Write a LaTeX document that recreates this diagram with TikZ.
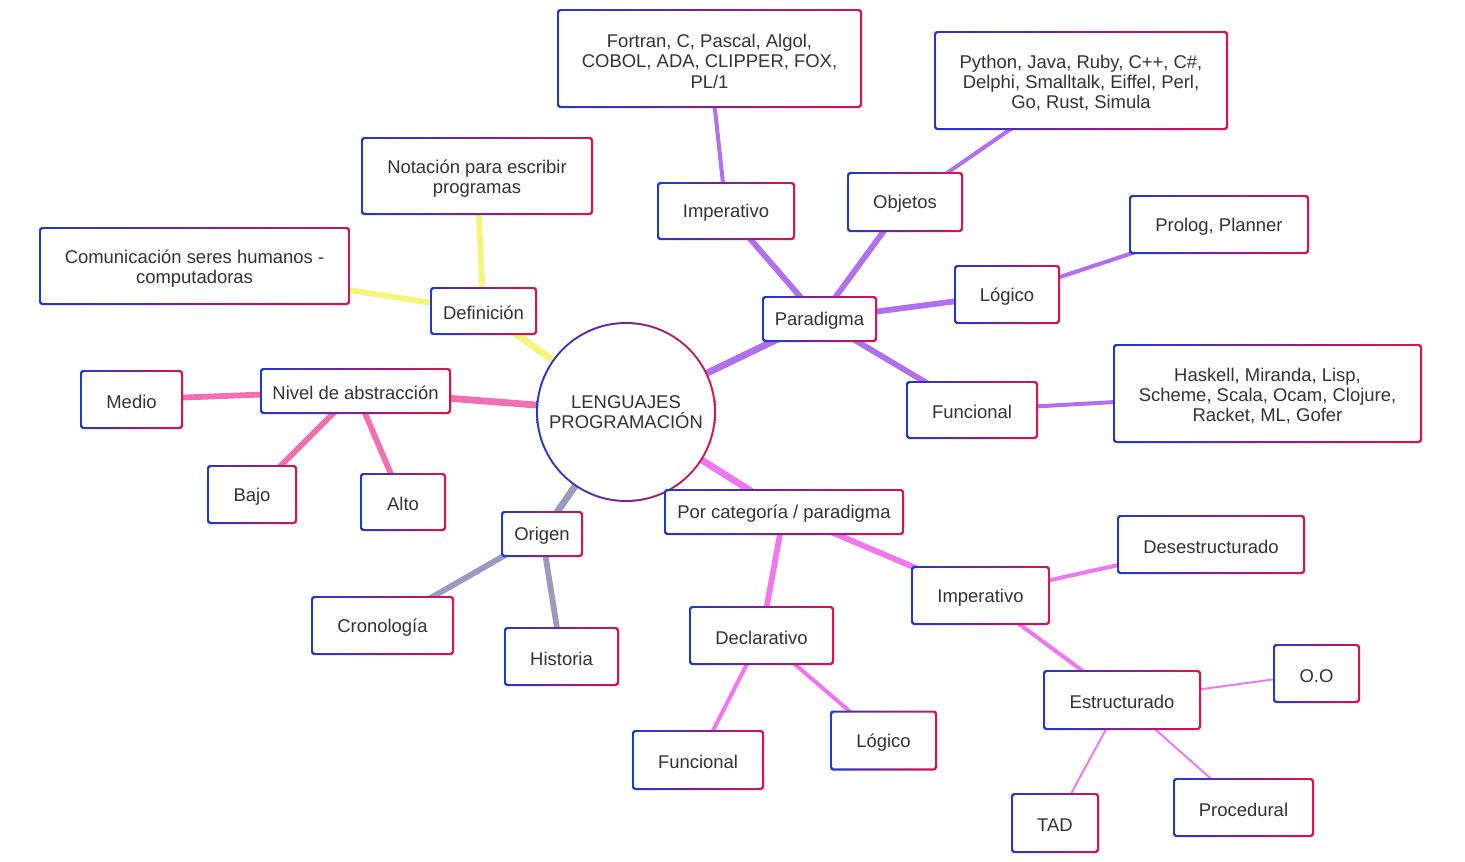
\documentclass[tikz,border=0pt]{standalone}
\usepackage{fontspec}
\setmainfont{Liberation Sans}
\usetikzlibrary{backgrounds}

\definecolor{frameblue}{RGB}{28,56,214}
\definecolor{framered}{RGB}{226,16,76}
\definecolor{textgray}{RGB}{51,51,51}
\definecolor{defyellow}{RGB}{245,245,125}
\definecolor{nivpink}{RGB}{242,112,178}
\definecolor{origray}{RGB}{155,155,194}
\definecolor{parpurple}{RGB}{178,112,240}
\definecolor{catmagenta}{RGB}{242,118,240}

\tikzset{
	box/.style={rounded corners=1.7pt, inner sep=0pt, align=center, text=textgray,
		font=\fontsize{10.5}{11.4}\selectfont, text height=9.9pt,
		path picture={
			\shade[left color=frameblue, right color=framered]
				(path picture bounding box.south west) rectangle (path picture bounding box.north east);
			\fill[white, rounded corners=1pt]
				([shift={(1.15pt,1.15pt)}]path picture bounding box.south west) rectangle
				([shift={(-1.15pt,-1.15pt)}]path picture bounding box.north east);
		}},
	two/.style={text height=22.3pt},
	three/.style={text height=33.7pt},
	wh/.style 2 args={minimum width=#1*0.02cm, minimum height=#2*0.02cm},
	root/.style={circle, inner sep=0pt, minimum size=3.6cm, align=center, text=textgray,
		font=\fontsize{10.5}{11.4}\selectfont,
		path picture={
			\shade[left color=frameblue, right color=framered]
				(path picture bounding box.south west) rectangle (path picture bounding box.north east);
			\fill[white] (path picture bounding box.center) circle (1.8cm-1.15pt);
		}},
	lvla/.style={line width=3.9pt},
	lvlb/.style={line width=3.3pt},
	lvlc/.style={line width=2.3pt},
	lvld/.style={line width=1.1pt}
}

\begin{document}
\begin{tikzpicture}[x=0.02cm, y=-0.02cm]
			\useasboundingbox (0,0) rectangle (1465,862);
			\node[root] (0) at (626,412) {LENGUAJES\\PROGRAMACIÓN};
			\node[box, three, wh={305}{99}] (1) at (709.5,58.5) {Fortran, C, Pascal, Algol,\\COBOL, ADA, CLIPPER, FOX,\\PL/1};
			\node[box, three, wh={294}{99}] (2) at (1081,80.5) {Python, Java, Ruby, C++, C\#,\\Delphi, Smalltalk, Eiffel, Perl,\\Go, Rust, Simula};
			\node[box, two, wh={232}{78}] (3) at (477,176) {Notación para escribir\\programas};
			\node[box, two, wh={311}{78}] (4) at (194.5,266) {Comunicación seres humanos -\\computadoras};
			\node[box, wh={107}{48}] (5) at (483.5,311) {Definición};
			\node[box, wh={138}{58}] (6) at (726,211) {Imperativo};
			\node[box, wh={116}{60}] (7) at (905,202) {Objetos};
			\node[box, wh={180}{59}] (8) at (1219,224.5) {Prolog, Planner};
			\node[box, wh={115}{46}] (9) at (819.5,319) {Paradigma};
			\node[box, wh={106}{59}] (10) at (1007,294.5) {Lógico};
			\node[box, three, wh={309}{99}] (11) at (1267.5,393.5) {Haskell, Miranda, Lisp,\\Scheme, Scala, Ocam, Clojure,\\Racket, ML, Gofer};
			\node[box, wh={132}{58}] (12) at (972,410) {Funcional};
			\node[box, wh={103}{59}] (13) at (131.5,399.5) {Medio};
			\node[box, wh={191}{46}] (14) at (355.5,391) {Nivel de abstracción};
			\node[box, wh={90}{59}] (15) at (252,494.5) {Bajo};
			\node[box, wh={86}{58}] (16) at (403,502) {Alto};
			\node[box, wh={82}{46}] (17) at (542,534) {Origen};
			\node[box, wh={240}{46}] (18) at (784,512) {Por categoría / paradigma};
			\node[box, wh={143}{59}] (19) at (382.5,625.5) {Cronología};
			\node[box, wh={115}{59}] (20) at (561.5,656.5) {Historia};
			\node[box, wh={188}{59}] (21) at (1211,544.5) {Desestructurado};
			\node[box, wh={139}{59}] (22) at (980.5,595.5) {Imperativo};
			\node[box, wh={145}{59}] (23) at (761.5,635.5) {Declarativo};
			\node[box, wh={87}{59}] (24) at (1316.5,673.5) {O.O};
			\node[box, wh={158}{60}] (25) at (1122,700) {Estructurado};
			\node[box, wh={132}{60}] (26) at (698,760) {Funcional};
			\node[box, wh={107}{60}] (27) at (883.5,740.5) {Lógico};
			\node[box, wh={88}{60}] (28) at (1055,823) {TAD};
			\node[box, wh={141}{59}] (29) at (1243.5,807.5) {Procedural};

			\begin{pgfonlayer}{background}
			\path
			  (0.center) edge[lvla, defyellow] (5.center)
			  (5.center) edge[lvlb, defyellow] (3.center)
			  (5.center) edge[lvlb, defyellow] (4.center)
			  (0.center) edge[lvla, nivpink] (14.center)
			  (14.center) edge[lvlb, nivpink] (13.center)
			  (14.center) edge[lvlb, nivpink] (15.center)
			  (14.center) edge[lvlb, nivpink] (16.center)
			  (0.center) edge[lvla, origray] (17.center)
			  (17.center) edge[lvlb, origray] (19.center)
			  (17.center) edge[lvlb, origray] (20.center)
			  (0.center) edge[lvla, parpurple] (9.center)
			  (9.center) edge[lvlb, parpurple] (6.center)
			  (9.center) edge[lvlb, parpurple] (7.center)
			  (9.center) edge[lvlb, parpurple] (10.center)
			  (9.center) edge[lvlb, parpurple] (12.center)
			  (6.center) edge[lvlc, parpurple] (1.center)
			  (7.center) edge[lvlc, parpurple] (2.center)
			  (10.center) edge[lvlc, parpurple] (8.center)
			  (12.center) edge[lvlc, parpurple] (11.center)
			  (0.center) edge[lvla, catmagenta] (18.center)
			  (18.center) edge[lvlb, catmagenta] (23.center)
			  (18.center) edge[lvlb, catmagenta] (22.center)
			  (23.center) edge[lvlc, catmagenta] (26.center)
			  (23.center) edge[lvlc, catmagenta] (27.center)
			  (22.center) edge[lvlc, catmagenta] (21.center)
			  (22.center) edge[lvlc, catmagenta] (25.center)
			  (25.center) edge[lvld, catmagenta] (24.center)
			  (25.center) edge[lvld, catmagenta] (28.center)
			  (25.center) edge[lvld, catmagenta] (29.center);
			\end{pgfonlayer}

		  \end{tikzpicture}
\end{document}
